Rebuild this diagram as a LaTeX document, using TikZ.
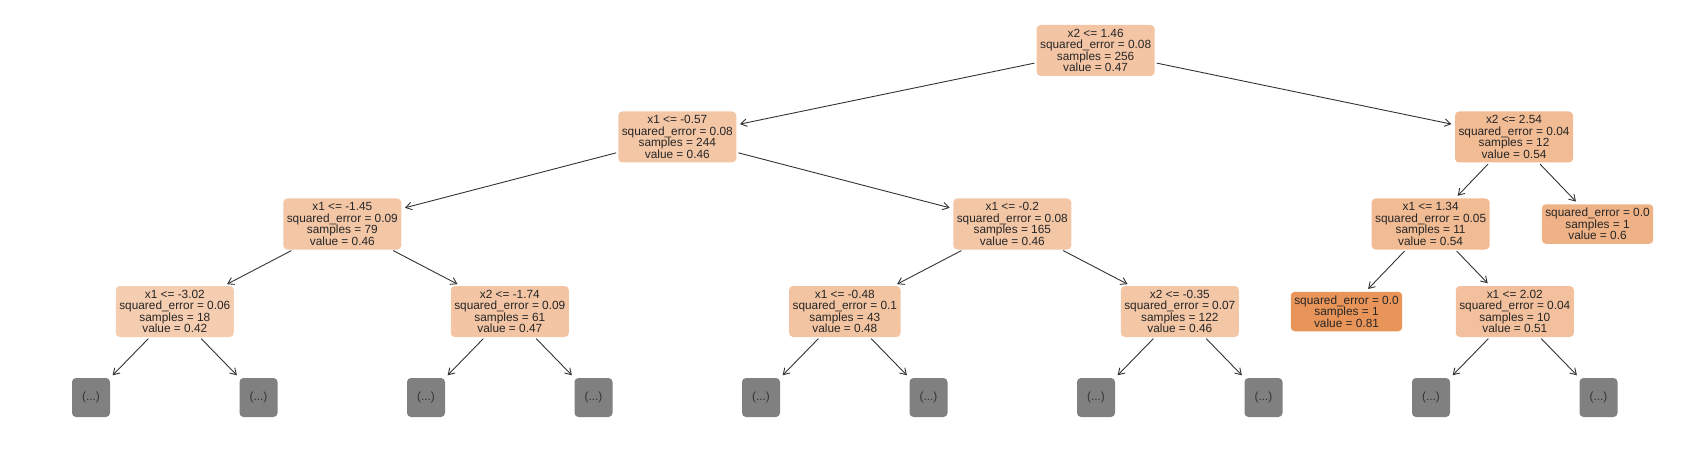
\documentclass[tikz,border=0pt]{standalone}
\usepackage{fontspec}
\setmainfont{Liberation Sans}
\usetikzlibrary{arrows.meta}
\definecolor{sk}{RGB}{229,129,57}
\definecolor{skgray}{RGB}{128,128,128}
\newcommand{\nodefont}{\fontsize{11.85}{11.5}\selectfont\lineskiplimit=-20pt\relax}
\begin{document}
\begin{tikzpicture}[x=1pt,y=1pt,
  treenode/.style={rounded corners=4pt, align=center, inner xsep=3.5pt, inner ysep=0pt,
    minimum height=51pt, font=\nodefont, text=black!85},
  leafnode/.style={treenode, minimum height=39.5pt},
  hidden/.style={rounded corners=4pt, fill=skgray, minimum width=38pt, minimum height=39pt,
    inner sep=0pt, font=\nodefont, text=black!80},
  edge/.style={draw=black!80, line width=0.9pt, -{Straight Barb[length=6pt,width=7.5pt]},
    shorten <=2pt, shorten >=3.5pt}
]
\useasboundingbox (0,0) rectangle (1688,-449);

% level 0
\node[treenode, fill=sk!46!white] (root) at (1095.6,-50.5)
  {x2 <= 1.46\\squared\_error = 0.08\\samples = 256\\value = 0.47};
% level 1
\node[treenode, fill=sk!45!white] (A) at (677.3,-137)
  {x1 <= -0.57\\squared\_error = 0.08\\samples = 244\\value = 0.46};
\node[treenode, fill=sk!54!white] (B) at (1514,-137)
  {x2 <= 2.54\\squared\_error = 0.04\\samples = 12\\value = 0.54};
% level 2
\node[treenode, fill=sk!45!white] (C) at (342.3,-224)
  {x1 <= -1.45\\squared\_error = 0.09\\samples = 79\\value = 0.46};
\node[treenode, fill=sk!45!white] (D) at (1012.3,-224)
  {x1 <= -0.2\\squared\_error = 0.08\\samples = 165\\value = 0.46};
\node[treenode, fill=sk!54!white] (E) at (1430.6,-224)
  {x1 <= 1.34\\squared\_error = 0.05\\samples = 11\\value = 0.54};
\node[leafnode, fill=sk!61!white] (F) at (1597.5,-224)
  {squared\_error = 0.0\\samples = 1\\value = 0.6};
% level 3
\node[treenode, fill=sk!40!white] (G) at (174.8,-311.5)
  {x1 <= -3.02\\squared\_error = 0.06\\samples = 18\\value = 0.42};
\node[treenode, fill=sk!46!white] (H) at (509.8,-311.5)
  {x2 <= -1.74\\squared\_error = 0.09\\samples = 61\\value = 0.47};
\node[treenode, fill=sk!47!white] (I) at (844.8,-311.5)
  {x1 <= -0.48\\squared\_error = 0.1\\samples = 43\\value = 0.48};
\node[treenode, fill=sk!45!white] (J) at (1179.8,-311.5)
  {x2 <= -0.35\\squared\_error = 0.07\\samples = 122\\value = 0.46};
\node[leafnode, fill=sk!84!white] (K) at (1346.5,-311.5)
  {squared\_error = 0.0\\samples = 1\\value = 0.81};
\node[treenode, fill=sk!50!white] (L) at (1514.8,-311.5)
  {x1 <= 2.02\\squared\_error = 0.04\\samples = 10\\value = 0.51};
% level 4 (hidden)
\foreach \k in {0,...,9} {
  \node[hidden] (h\k) at ({91+167.5*\k},-397.5) {(...)};
}

% edges
\draw[edge] (root) -- (A);
\draw[edge] (root) -- (B);
\draw[edge] (A) -- (C);
\draw[edge] (A) -- (D);
\draw[edge] (B) -- (E);
\draw[edge] (B) -- (F);
\draw[edge] (C) -- (G);
\draw[edge] (C) -- (H);
\draw[edge] (D) -- (I);
\draw[edge] (D) -- (J);
\draw[edge] (E) -- (K);
\draw[edge] (E) -- (L);
\draw[edge] (G) -- (h0);
\draw[edge] (G) -- (h1);
\draw[edge] (H) -- (h2);
\draw[edge] (H) -- (h3);
\draw[edge] (I) -- (h4);
\draw[edge] (I) -- (h5);
\draw[edge] (J) -- (h6);
\draw[edge] (J) -- (h7);
\draw[edge] (L) -- (h8);
\draw[edge] (L) -- (h9);
\end{tikzpicture}
\end{document}
